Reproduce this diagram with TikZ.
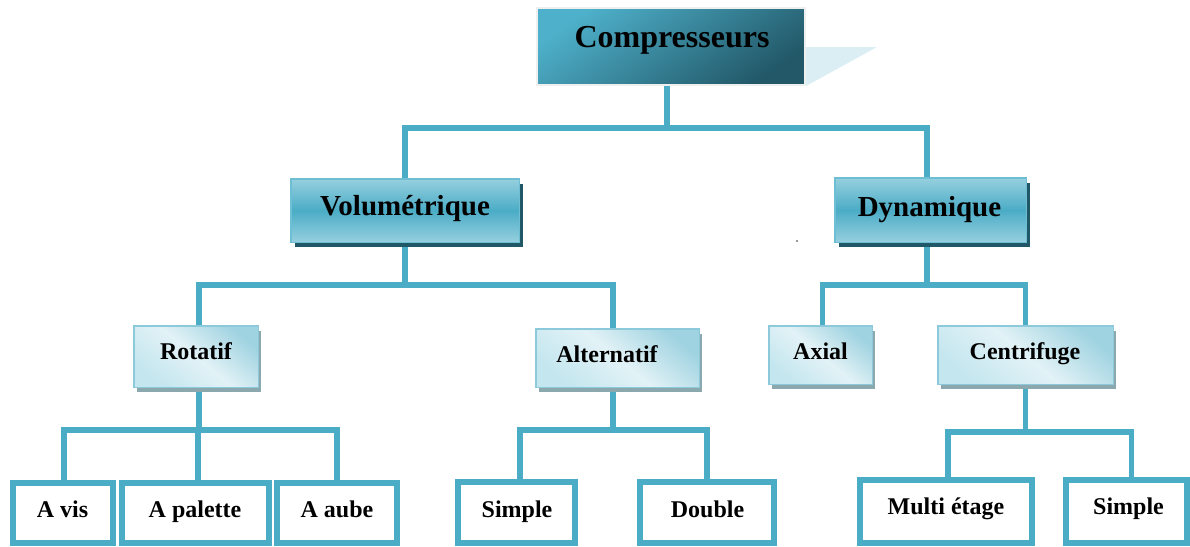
\documentclass[tikz,border=0pt]{standalone}
\usepackage{fontspec}
\setmainfont{Liberation Serif}
\usetikzlibrary{shadows,backgrounds}

\definecolor{cLine}{RGB}{75,172,198}
\definecolor{cDark}{RGB}{33,88,104}
\definecolor{cTopL}{RGB}{78,176,202}
\definecolor{cTopD}{RGB}{34,88,104}
\definecolor{cEdge}{RGB}{238,240,240}
\definecolor{cMidL}{RGB}{150,208,223}
\definecolor{cMidE}{RGB}{110,190,212}
\definecolor{cLt0}{RGB}{226,242,246}
\definecolor{cLt1}{RGB}{160,211,225}
\definecolor{cLt2}{RGB}{196,230,239}
\definecolor{cLtE}{RGB}{140,202,219}
\definecolor{cShade}{RGB}{140,168,175}
\definecolor{cTri}{RGB}{218,238,243}

\begin{document}
\begin{tikzpicture}[x=1pt,y=-1pt,
  conn/.style={draw=cLine, line width=5.5pt, line join=miter},
  topbox/.style={draw=cEdge, line width=2pt, inner sep=0pt,
    top color=cTopL, bottom color=cTopD, shading angle=35},
  midbox/.style={draw=cMidE, line width=1.5pt, inner sep=0pt,
    top color=cMidL, bottom color=cMidL, middle color=cLine,
    drop shadow={shadow xshift=4pt, shadow yshift=-5pt, fill=cDark, opacity=1}},
  lightbox/.style={draw=cLtE, line width=1.5pt, inner sep=0pt,
    top color=cLt1, bottom color=cLt2, middle color=cLt0, shading angle=-40,
    drop shadow={shadow xshift=3pt, shadow yshift=-5pt, fill=cShade, opacity=1}},
  leafbox/.style={draw=cLine, line width=6pt, fill=white, inner sep=0pt},
  tTop/.style={font=\fontsize{32}{36}\selectfont\bfseries, inner sep=0pt, anchor=base},
  tMid/.style={font=\fontsize{29}{33}\selectfont\bfseries, inner sep=0pt, anchor=base},
  tSm/.style={font=\fontsize{24}{28}\selectfont\bfseries, inner sep=0pt, anchor=base}
]
\useasboundingbox (0,0) rectangle (1190,546);

% bus levels
\coordinate (b0) at (0,128);
\coordinate (b1) at (0,285);
\coordinate (b2) at (0,430);
\coordinate (b3) at (0,432);

% boxes
\node[topbox, minimum width=268pt, minimum height=77pt] (comp) at (671,46.5) {};
\node[midbox, minimum width=228.5pt, minimum height=63.5pt] (vol) at (405,210.5) {};
\node[midbox, minimum width=191.5pt, minimum height=64.5pt] (dyn) at (930.5,210) {};
\node[lightbox, minimum width=124.5pt, minimum height=61.5pt] (rot) at (196,356.5) {};
\node[lightbox, minimum width=163.5pt, minimum height=58.5pt] (alt) at (617.5,358) {};
\node[lightbox, minimum width=103.5pt, minimum height=58.5pt] (axi) at (820.5,355) {};
\node[lightbox, minimum width=175.5pt, minimum height=58.5pt] (cen) at (1025.5,355) {};
\node[leafbox, minimum width=100pt, minimum height=60pt] (avis) at (63,513) {};
\node[leafbox, minimum width=147pt, minimum height=60pt] (apal) at (195.5,513) {};
\node[leafbox, minimum width=120pt, minimum height=60pt] (aaub) at (337,513) {};
\node[leafbox, minimum width=117pt, minimum height=61pt] (simA) at (516.5,512.5) {};
\node[leafbox, minimum width=134pt, minimum height=61pt] (dbl) at (707,512.5) {};
\node[leafbox, minimum width=172pt, minimum height=63pt] (mul) at (946,511.5) {};
\node[leafbox, minimum width=121pt, minimum height=63pt] (simB) at (1126.5,511.5) {};

% labels
\node[tTop] (comp-t) at (672,47) {Compresseurs};
\node[tMid] (vol-t) at (405,215) {Volumétrique};
\node[tMid] (dyn-t) at (929.5,216) {Dynamique};
\node[tSm] (rot-t) at (196,359) {Rotatif};
\node[tSm] (alt-t) at (607,362) {Alternatif};
\node[tSm] (axi-t) at (820.5,359) {Axial};
\node[tSm] (cen-t) at (1025,359) {Centrifuge};
\node[tSm] (avis-t) at (62.5,517) {A vis};
\node[tSm] (apal-t) at (195,517) {A palette};
\node[tSm] (aaub-t) at (337,517) {A aube};
\node[tSm] (simA-t) at (517,517) {Simple};
\node[tSm] (dbl-t) at (707.5,517) {Double};
\node[tSm] (mul-t) at (946,514) {Multi étage};
\node[tSm] (simB-t) at (1128.5,514) {Simple};

% stray dot
\fill[black!80] (797,241) circle (0.8pt);

% attachment points of the connectors
\coordinate (compS) at ([xshift=-4pt]comp.south);
\coordinate (dynN) at ([xshift=-3.5pt]dyn.north);
\coordinate (dynS) at ([xshift=-3.5pt]dyn.south);
\coordinate (rotN) at ([xshift=3pt]rot.north);
\coordinate (rotS) at ([xshift=3pt]rot.south);
\coordinate (altN) at ([xshift=-4.5pt]alt.north);
\coordinate (altS) at ([xshift=-4.5pt]alt.south);
\coordinate (axiN) at ([xshift=2pt]axi.north);
\coordinate (avisN) at ([xshift=1pt]avis.north);
\coordinate (apalN) at ([xshift=2.5pt]apal.north);
\coordinate (simAN) at ([xshift=3.5pt]simA.north);
\coordinate (mulN) at ([xshift=2pt]mul.north);
\coordinate (simBN) at ([xshift=5pt]simB.north);

\begin{scope}[on background layer]
  % callout tail of the title box
  \fill[cTri] (806,47) -- (877,47) -- (806,86) -- cycle;
  % level 1
  \draw[conn] (compS) -- (compS |- b0);
  \draw[conn] (vol.north) |- (b0 -| dynN) -- (dynN);
  % level 2
  \draw[conn] (vol.south) -- (vol.south |- b1);
  \draw[conn] (rotN) |- (b1 -| altN) -- (altN);
  \draw[conn] (dynS) -- (dynS |- b1);
  \draw[conn] (axiN) |- (b1 -| cen.north) -- (cen.north);
  % level 3
  \draw[conn] (rotS) -- (rotS |- b2);
  \draw[conn] (avisN) |- (b2 -| aaub.north) -- (aaub.north);
  \draw[conn] (apalN) -- (apalN |- b2);
  \draw[conn] (altS) -- (altS |- b2);
  \draw[conn] (simAN) |- (b2 -| dbl.north) -- (dbl.north);
  \draw[conn] (cen.south) -- (cen.south |- b3);
  \draw[conn] (mulN) |- (b3 -| simBN) -- (simBN);
\end{scope}
\end{tikzpicture}
\end{document}
